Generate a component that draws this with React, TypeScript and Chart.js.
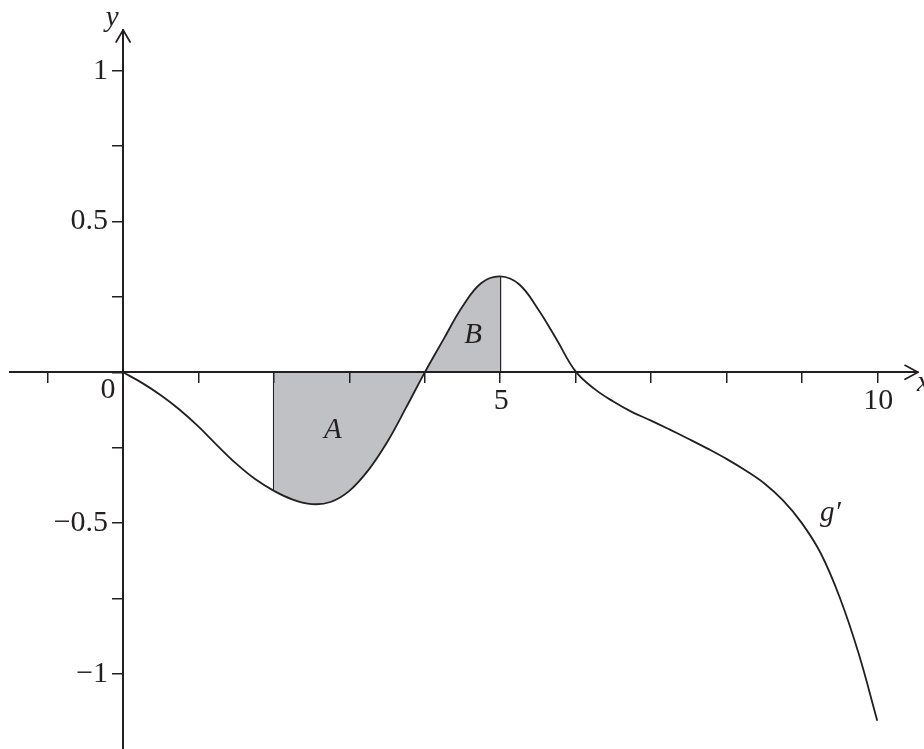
import React, { useEffect, useRef } from "react";
import { Chart, registerables } from "chart.js";

Chart.register(...registerables);

// Sample points of g'(x)
const xValues = [
  0, 0.25, 0.5, 0.75, 1, 1.25, 1.5, 1.75, 2, 2.25, 2.5, 2.75, 3, 3.25, 3.5, 3.75,
  4, 4.25, 4.5, 4.75, 5, 5.25, 5.5, 5.75, 6, 6.25, 6.5, 6.75, 7, 7.25, 7.5, 7.75,
  8, 8.25, 8.5, 8.75, 9, 9.25, 9.5, 9.75, 10,
];
const gPrimeValues = [
  0, -0.035, -0.076, -0.124, -0.18, -0.243, -0.303, -0.354, -0.393, -0.422, -0.437,
  -0.43, -0.393, -0.325, -0.232, -0.118, 0, 0.11, 0.218, 0.296, 0.318, 0.292, 0.21,
  0.108, 0.003, -0.055, -0.097, -0.132, -0.16, -0.19, -0.221, -0.253, -0.287, -0.325,
  -0.368, -0.425, -0.5, -0.6, -0.745, -0.93, -1.155,
];

// Shaded interval [2, 5]
const shadeFrom = 2;
const shadeTo = 5;

// Axis ticks and labels
const xTickValues = [-1, 0, 1, 2, 3, 4, 5, 6, 7, 8, 9, 10];
const yTickValues = [-1, -0.75, -0.5, -0.25, 0, 0.25, 0.5, 0.75, 1];
const xLabelValues = [0, 5, 10];
const xTickLabels = ["0", "5", "10"];
const yLabelValues = [1, 0.5, -0.5, -1];
const yTickLabels = ["1", "0.5", "\u22120.5", "\u22121"];
const regionNames = ["A", "B"];
const curveName = "g\u2032";

const INK = "#231f20";
const SHADE = "rgb(192,193,196)";
const SERIF = '"Liberation Serif", "Times New Roman", serif';

const points = xValues.map((x, i) => ({ x, y: gPrimeValues[i] }));
const iFrom = xValues.indexOf(shadeFrom);
const iTo = xValues.indexOf(shadeTo);

const decorPlugin = {
  id: "axisDecor",
  afterDraw(chart: any) {
    const { ctx, chartArea, scales } = chart;
    const x = scales.x;
    const y = scales.y;
    const ox = x.getPixelForValue(0);
    const oy = y.getPixelForValue(0);
    ctx.save();
    ctx.strokeStyle = INK;
    ctx.lineWidth = 1.7;
    ctx.lineCap = "round";
    ctx.lineJoin = "round";
    // arrow heads
    const top = chartArea.top;
    ctx.beginPath();
    ctx.moveTo(ox - 7, top + 12);
    ctx.lineTo(ox, top);
    ctx.lineTo(ox + 7, top + 12);
    ctx.stroke();
    const right = chartArea.right;
    ctx.beginPath();
    ctx.moveTo(right - 13, oy - 7);
    ctx.lineTo(right, oy);
    ctx.lineTo(right - 13, oy + 7);
    ctx.stroke();

    // tick labels
    ctx.fillStyle = INK;
    ctx.font = `30px ${SERIF}`;
    ctx.textAlign = "right";
    ctx.textBaseline = "middle";
    yLabelValues.forEach((v, i) => {
      ctx.fillText(yTickLabels[i], ox - 15, y.getPixelForValue(v));
    });
    ctx.textAlign = "center";
    xLabelValues.forEach((v, i) => {
      const px = x.getPixelForValue(v);
      if (v === 0) ctx.fillText(xTickLabels[i], px - 15, oy + 18);
      else ctx.fillText(xTickLabels[i], px + 1, oy + 28.5);
    });

    // axis names and region names
    ctx.font = `italic 29px ${SERIF}`;
    ctx.textBaseline = "alphabetic";
    ctx.textAlign = "center";
    ctx.fillText("y", ox - 11, top - 4);
    ctx.textAlign = "left";
    ctx.fillText("x", right - 1, oy + 19);
    ctx.textAlign = "center";
    ctx.fillText(regionNames[0], x.getPixelForValue(2.78), y.getPixelForValue(-0.218));
    ctx.fillText(regionNames[1], x.getPixelForValue(4.64), y.getPixelForValue(0.097));
    ctx.textAlign = "left";
    ctx.fillText(curveName, x.getPixelForValue(9.24), y.getPixelForValue(-0.493));
    ctx.restore();
  },
};

export default function App() {
  const canvasRef = useRef<HTMLCanvasElement | null>(null);

  useEffect(() => {
    const canvas = canvasRef.current;
    if (!canvas) return;
    let chart: Chart | null = null;
    let cancelled = false;

    const build = () => {
      if (cancelled) return;
      const axisStyle = {
        grid: {
          display: true,
          drawOnChartArea: false,
          drawTicks: true,
          tickLength: 10,
          color: INK,
          lineWidth: 1.5,
          z: 1,
        },
        border: { display: true, color: INK, width: 2, z: 1 },
        ticks: { display: false },
      };
      const inShade = (c: any) =>
        c.p0.parsed.x >= shadeFrom && c.p1.parsed.x <= shadeTo ? SHADE : "rgba(0,0,0,0)";
      chart = new Chart(canvas, {
        type: "line",
        data: {
          datasets: [
            {
              label: "g'",
              data: points,
              borderColor: INK,
              borderWidth: 1.8,
              pointRadius: 0,
              tension: 0.4,
              fill: "origin",
              backgroundColor: "rgba(0,0,0,0)",
              segment: { backgroundColor: inShade },
              order: 0,
            },
            {
              label: "left edge",
              data: [
                { x: shadeFrom, y: gPrimeValues[iFrom] },
                { x: shadeFrom, y: 0 },
              ],
              borderColor: INK,
              borderWidth: 2,
              pointRadius: 0,
              fill: false,
              order: 1,
            },
            {
              label: "right edge",
              data: [
                { x: shadeTo, y: gPrimeValues[iTo] },
                { x: shadeTo, y: 0 },
              ],
              borderColor: INK,
              borderWidth: 2,
              pointRadius: 0,
              fill: false,
              order: 1,
            },
          ],
        },
        options: {
          responsive: false,
          animation: false,
          events: [],
          layout: { padding: { left: 10, right: 6, top: 30, bottom: 0 } },
          plugins: { legend: { display: false }, tooltip: { enabled: false } },
          scales: {
            x: {
              type: "linear",
              min: -1.5,
              max: 10.54,
              position: { y: 0 },
              afterBuildTicks: (scale: any) => {
                scale.ticks = xTickValues.map((value) => ({ value }));
              },
              ...axisStyle,
            },
            y: {
              type: "linear",
              min: -1.249,
              max: 1.135,
              position: { x: 0 },
              afterBuildTicks: (scale: any) => {
                scale.ticks = yTickValues.map((value) => ({ value }));
              },
              ...axisStyle,
            },
          },
        } as any,
        plugins: [decorPlugin],
      });
    };

    const fonts = (document as any).fonts;
    if (fonts && fonts.load) {
      Promise.all([
        fonts.load(`30px ${SERIF}`),
        fonts.load(`italic 29px ${SERIF}`),
      ])
        .catch(() => null)
        .then(build);
    } else {
      build();
    }

    return () => {
      cancelled = true;
      if (chart) chart.destroy();
    };
  }, []);

  return (
    <canvas
      ref={canvasRef}
      width={924}
      height={749}
      style={{ position: "absolute", left: 0, top: 0, display: "block", background: "#ffffff" }}
    />
  );
}
